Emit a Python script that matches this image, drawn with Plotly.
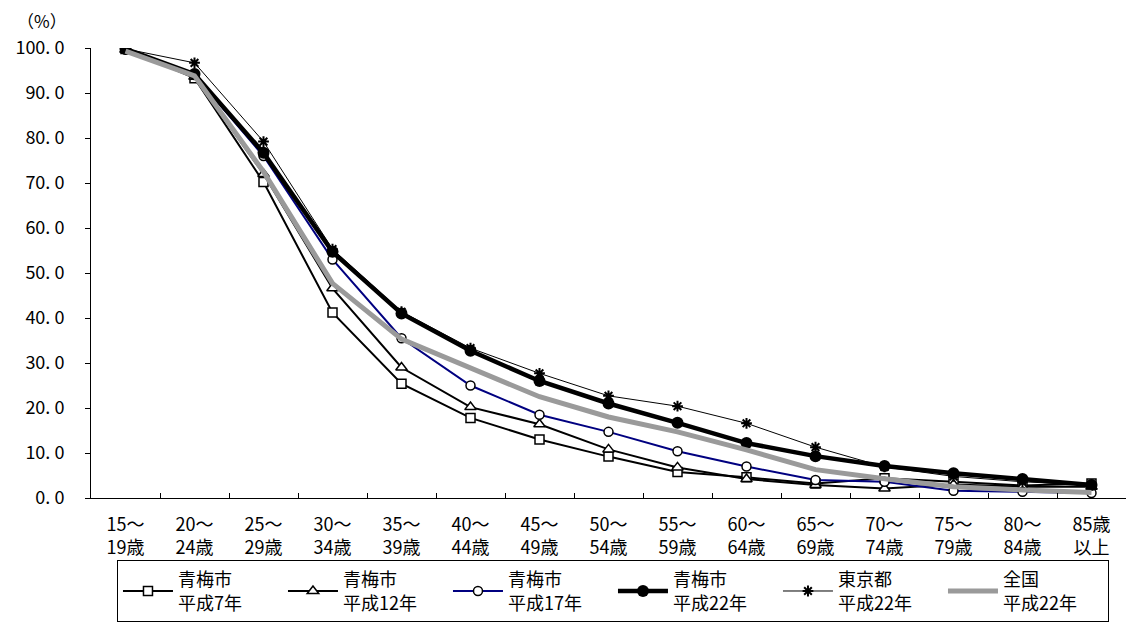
import plotly.graph_objects as go

# Age groups (x categories)
age_groups = ["15～<br>19歳", "20～<br>24歳", "25～<br>29歳", "30～<br>34歳", "35～<br>39歳",
              "40～<br>44歳", "45～<br>49歳", "50～<br>54歳", "55～<br>59歳", "60～<br>64歳",
              "65～<br>69歳", "70～<br>74歳", "75～<br>79歳", "80～<br>84歳", "85歳<br>以上"]

# Unmarried rate (%) by series
ome_h7 = [99.8, 93.3, 70.2, 41.2, 25.4, 17.8, 13.0, 9.2, 5.8, 4.6, 3.2, 4.4, 3.6, 2.8, 3.2]
ome_h12 = [99.6, 93.6, 72.0, 46.6, 29.0, 20.2, 16.4, 10.8, 6.8, 4.2, 2.9, 2.1, 3.0, 2.5, 2.5]
ome_h17 = [99.7, 94.0, 76.0, 53.0, 35.5, 25.0, 18.5, 14.7, 10.4, 7.0, 4.0, 3.6, 1.6, 1.4, 1.1]
ome_h22 = [99.8, 94.2, 76.7, 54.7, 41.0, 32.7, 26.0, 21.0, 16.7, 12.2, 9.3, 7.1, 5.5, 4.2, 2.9]
tokyo_h22 = [99.8, 96.7, 79.2, 55.3, 41.4, 33.3, 27.7, 22.7, 20.4, 16.6, 11.3, 6.9, 4.8, 3.6, 2.9]
japan_h22 = [99.3, 93.8, 72.5, 47.7, 35.3, 28.8, 22.5, 18.0, 14.7, 10.7, 6.3, 4.3, 2.5, 1.8, 1.2]

# Y tick values and labels
y_ticks = [0, 10, 20, 30, 40, 50, 60, 70, 80, 90, 100]
y_ticklabels = ["0. 0", "10. 0", "20. 0", "30. 0", "40. 0", "50. 0",
                "60. 0", "70. 0", "80. 0", "90. 0", "100. 0"]

FONT = "Noto Sans CJK JP"

fig = go.Figure()

fig.add_trace(go.Scatter(
    x=age_groups, y=ome_h7, name="青梅市<br>平成7年", mode="lines+markers",
    line=dict(color="black", width=2),
    marker=dict(symbol="square", size=9, color="white", line=dict(color="black", width=1.5)),
))
fig.add_trace(go.Scatter(
    x=age_groups, y=ome_h12, name="青梅市<br>平成12年", mode="lines+markers",
    line=dict(color="black", width=2),
    marker=dict(symbol="triangle-up", size=10, color="white", line=dict(color="black", width=1.5)),
))
fig.add_trace(go.Scatter(
    x=age_groups, y=ome_h17, name="青梅市<br>平成17年", mode="lines+markers",
    line=dict(color="#000080", width=2),
    marker=dict(symbol="circle", size=9, color="white", line=dict(color="black", width=1.5)),
))
fig.add_trace(go.Scatter(
    x=age_groups, y=ome_h22, name="青梅市<br>平成22年", mode="lines+markers",
    line=dict(color="black", width=4.5),
    marker=dict(symbol="circle", size=12, color="black"),
))
fig.add_trace(go.Scatter(
    x=age_groups, y=tokyo_h22, name="東京都<br>平成22年", mode="lines+markers",
    line=dict(color="black", width=1),
    marker=dict(symbol="asterisk-open", size=9, color="black", line=dict(color="black", width=2)),
))
fig.add_trace(go.Scatter(
    x=age_groups, y=japan_h22, name="全国<br>平成22年", mode="lines",
    line=dict(color="#9a9a9a", width=5),
))

fig.update_layout(
    width=1127, height=644,
    margin=dict(l=91, r=1, t=48, b=146, autoexpand=False),
    paper_bgcolor="white", plot_bgcolor="white",
    font=dict(family=FONT, size=18, color="black"),
    showlegend=True,
    legend=dict(
        orientation="h", x=0.0251, xanchor="left", y=-0.138, yanchor="top",
        bordercolor="black", borderwidth=1, bgcolor="white",
        entrywidth=100, entrywidthmode="pixels", itemwidth=50,
        font=dict(family=FONT, size=18, color="black"),
        traceorder="normal", itemsizing="trace",
    ),
    xaxis=dict(
        type="category", range=[-0.5, 14.5],
        showline=True, linecolor="black", linewidth=1,
        ticks="inside", ticklen=5, tickcolor="black", tickson="boundaries",
        showgrid=False, zeroline=False, ticklabelstandoff=10, automargin=False,
        tickfont=dict(family=FONT, size=18, color="black"),
    ),
    yaxis=dict(
        range=[0, 100], tickvals=y_ticks, ticktext=y_ticklabels,
        showline=True, linecolor="black", linewidth=1,
        ticks="outside", ticklen=5, tickcolor="black",
        showgrid=False, zeroline=False, ticklabelstandoff=17, automargin=False,
        tickfont=dict(family=FONT, size=18, color="black"),
    ),
    annotations=[dict(
        text="（%）", xref="paper", yref="paper", x=-0.047, y=1.062,
        xanchor="center", yanchor="middle", showarrow=False,
        font=dict(family=FONT, size=17, color="black"),
    )],
)

fig.write_html("out.html")
